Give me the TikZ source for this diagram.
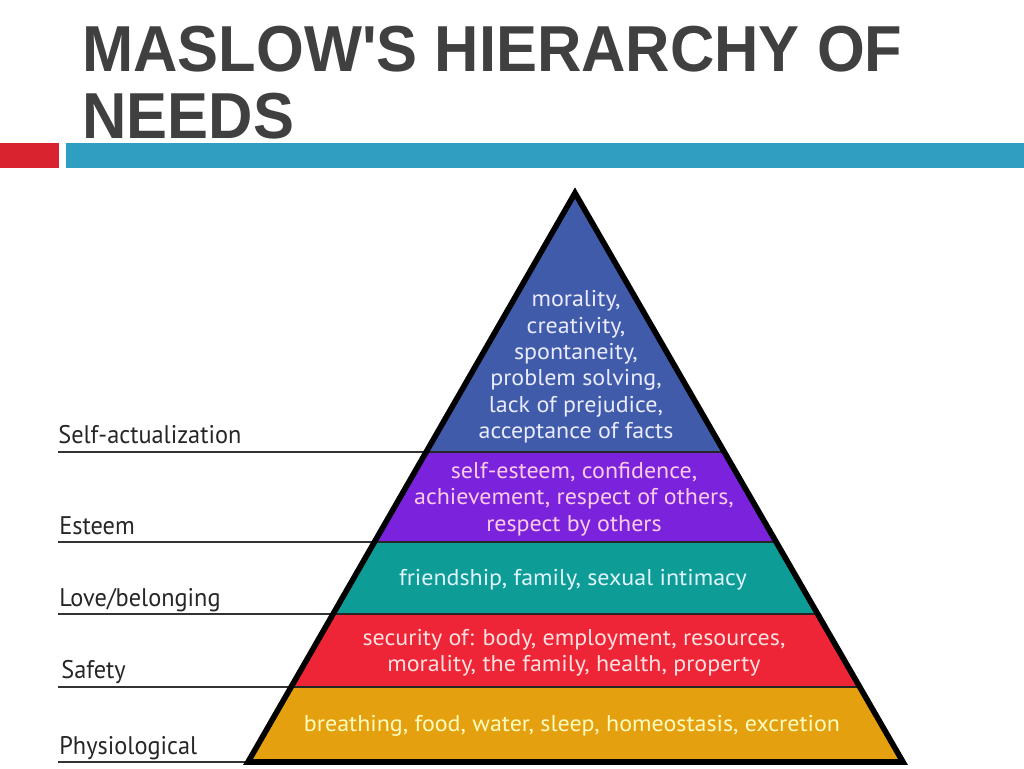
\documentclass[tikz,border=0pt]{standalone}
\usepackage{fontspec}
\setmainfont{Liberation Sans}
\newfontfamily\titlefont[FakeStretch=0.945]{Liberation Sans}
\newfontfamily\labelfont[FakeStretch=0.955]{PT Sans}
\newfontfamily\bandfont[FakeStretch=1.05]{PT Sans}
\usetikzlibrary{calc}

\definecolor{titlegray}{HTML}{404040}
\definecolor{barred}{HTML}{D9232E}
\definecolor{barblue}{HTML}{2E9FC0}
\definecolor{selfblue}{HTML}{3F5BA9}
\definecolor{esteempurple}{HTML}{7A22DC}
\definecolor{loveteal}{HTML}{0E9C96}
\definecolor{safetyred}{HTML}{EE2536}
\definecolor{physioorange}{HTML}{E5A00F}

\tikzset{
  levellabel/.style={anchor=base west,inner sep=0pt,text=black!85,
    font=\labelfont\fontsize{14.5}{16}\selectfont},
  bandtext/.style={align=center,inner sep=0pt,
    font=\bandfont\fontsize{13}{15}\selectfont},
  levelline/.style={line width=1.6pt,black!80},
}

\begin{document}
\begin{tikzpicture}[x=0.02cm,y=-0.02cm]
  \useasboundingbox (0,0) rectangle (1024,768);
  % title and bars
  \node[anchor=base west,inner sep=0pt,align=left,text=titlegray,
    font=\titlefont\bfseries\fontsize{37}{37.6}\selectfont] (title) at (82,138)
    {MASLOW'S HIERARCHY OF\\NEEDS};
  \fill[barred] (0,143) rectangle (59,168);
  \fill[barblue] (66,143) rectangle (1024,168);

  % pyramid
  \coordinate (apex) at (575,193);
  \coordinate (bl) at (248,762);
  \coordinate (br) at (903,762);
  \coordinate (lx) at (58,0);
  \foreach \t [count=\i] in {0.4552,0.6134,0.7399,0.8682,1}{
    \coordinate (l\i) at ($(apex)!\t!(bl)$);
    \coordinate (r\i) at ($(apex)!\t!(br)$);
  }
  \fill[selfblue] (apex) -- (l1) -- (r1) -- cycle;
  \foreach \a/\b/\c in {1/2/esteempurple,2/3/loveteal,3/4/safetyred,4/5/physioorange}
    \fill[\c] (l\a) -- (l\b) -- (r\b) -- (r\a) -- cycle;
  \foreach \i in {1,...,4}
    \draw[line width=1.4pt,black!85] (l\i) -- (r\i);

  % level lines and names
  \foreach \i in {1,...,5}
    \draw[levelline] (lx |- l\i) -- (l\i);
  \draw[line width=3.2pt,line join=miter] (apex) -- (bl) -- (br) -- cycle;
  \node[levellabel] (selfact) at ($(lx |- l1)+(0,-9)$) {Self-actualization};
  \node[levellabel] (esteem) at ($(lx |- l2)+(1,-8)$) {Esteem};
  \node[levellabel] (love) at ($(lx |- l3)+(1,-8)$) {Love/belonging};
  \node[levellabel] (safety) at ($(lx |- l4)+(3,-9)$) {Safety};
  \node[levellabel] (physio) at ($(lx |- l5)+(1,-8)$) {Physiological};

  % band texts
  \node[bandtext,text=blue!8] (selftext) at (576,367)
    {morality,\\creativity,\\spontaneity,\\problem solving,\\lack of prejudice,\\acceptance of facts};
  \node[bandtext,text=magenta!20] (esteemtext) at (574,499)
    {self-esteem, confidence,\\achievement, respect of others,\\respect by others};
  \node[bandtext,text=cyan!12] (lovetext) at (573,580)
    {friendship, family, sexual intimacy};
  \node[bandtext,text=red!12] (safetytext) at (574,653)
    {security of: body, employment, resources,\\morality, the family, health, property};
  \node[bandtext,text=yellow!25] (physiotext) at (572,726)
    {breathing, food, water, sleep, homeostasis, excretion};
\end{tikzpicture}
\end{document}
